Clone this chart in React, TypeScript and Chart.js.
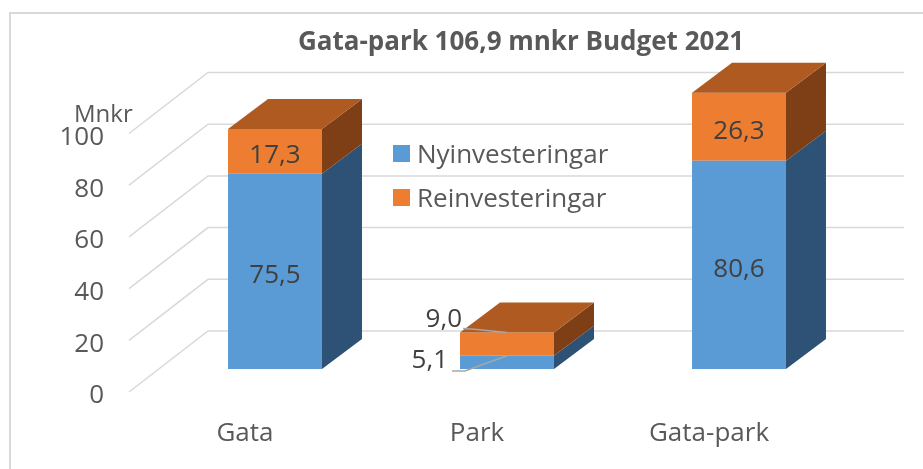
import { useEffect, useRef } from "react";
import { Chart, registerables } from "chart.js";

Chart.register(...registerables);

const categories = ["Gata", "Park", "Gata-park"];
const nyinvesteringar = [75.5, 5.1, 80.6];
const reinvesteringar = [17.3, 9.0, 26.3];
const seriesNames = ["Nyinvesteringar", "Reinvesteringar"];
const yTickValues = [0, 20, 40, 60, 80, 100];
const titleText = "Gata-park 106,9 mnkr Budget 2021";
const yUnit = "Mnkr";

const FONT = "'Open Sans', 'Noto Sans', sans-serif";
const DX = 40;
const DY = -30;
const frontColors = ["#5b9bd5", "#ed7d31"];
const sideColors = ["#2e5276", "#7e3f16"];
const topColors = ["#41719c", "#ae5a21"];
const textGrey = "#595959";
const labelDark = "#404040";
const gridGrey = "#d9d9d9";

const fmt = (v: number) => v.toFixed(1).replace(".", ",");

const excel3d = {
  id: "excel3d",
  beforeDraw(chart: any) {
    const ctx = chart.ctx;
    ctx.save();
    ctx.fillStyle = "#ffffff";
    ctx.fillRect(0, 0, chart.width, chart.height);
    ctx.strokeStyle = gridGrey;
    ctx.lineWidth = 2;
    ctx.strokeRect(10, 13, chart.width + 40, chart.height + 40);
    ctx.fillStyle = textGrey;
    ctx.font = `bold 26px ${FONT}`;
    ctx.textAlign = "center";
    ctx.textBaseline = "alphabetic";
    ctx.fillText(titleText, 521, 50);
    ctx.font = `24px ${FONT}`;
    ctx.textAlign = "left";
    ctx.fillText(yUnit, 74, 122);
    ctx.restore();
  },
  beforeDatasetsDraw(chart: any) {
    const ys = chart.scales.y;
    const ctx = chart.ctx;
    const { left, right } = chart.chartArea;
    ctx.save();
    ctx.strokeStyle = gridGrey;
    ctx.lineWidth = 1.5;
    for (const v of yTickValues) {
      const p = ys.getPixelForValue(v);
      ctx.beginPath();
      ctx.moveTo(left - 30, p + 23);
      ctx.lineTo(left + 49, p - 38);
      ctx.lineTo(right + 49, p - 38);
      ctx.stroke();
    }
    ctx.restore();
  },
  afterDatasetsDraw(chart: any) {
    const ctx = chart.ctx;
    const n = chart.data.labels.length;
    const nd = chart.data.datasets.length;
    ctx.save();
    for (let i = 0; i < n; i++) {
      let topDs = -1;
      for (let d = 0; d < nd; d++) {
        if ((chart.data.datasets[d].data[i] as number) > 0) topDs = d;
      }
      for (let d = 0; d < nd; d++) {
        const el = chart.getDatasetMeta(d).data[i];
        const { x, width, y, base } = el.getProps(["x", "width", "y", "base"], true);
        const l = x - width / 2;
        const r = x + width / 2;
        const t = Math.min(y, base);
        const b = Math.max(y, base);
        ctx.fillStyle = sideColors[d];
        ctx.beginPath();
        ctx.moveTo(r, t);
        ctx.lineTo(r + DX, t + DY);
        ctx.lineTo(r + DX, b + DY);
        ctx.lineTo(r, b);
        ctx.closePath();
        ctx.fill();
        if (d === topDs) {
          ctx.fillStyle = topColors[d];
          ctx.beginPath();
          ctx.moveTo(l, t);
          ctx.lineTo(l + DX, t + DY);
          ctx.lineTo(r + DX, t + DY);
          ctx.lineTo(r, t);
          ctx.closePath();
          ctx.fill();
        }
      }
      for (let d = 0; d < nd; d++) {
        const el = chart.getDatasetMeta(d).data[i];
        const { x, width, y, base } = el.getProps(["x", "width", "y", "base"], true);
        const l = x - width / 2;
        const t = Math.min(y, base);
        const b = Math.max(y, base);
        const v = chart.data.datasets[d].data[i] as number;
        const txt = fmt(v);
        ctx.font = `26px ${FONT}`;
        ctx.fillStyle = labelDark;
        ctx.textBaseline = "alphabetic";
        if (b - t > 40) {
          ctx.textAlign = "center";
          ctx.fillText(txt, x, (t + b) / 2 + 12);
        } else {
          ctx.textAlign = "right";
          ctx.strokeStyle = "#a6a6a6";
          ctx.lineWidth = 1.5;
          ctx.beginPath();
          if (d === 0) {
            ctx.fillText(txt, l - 12, b - 1);
            ctx.moveTo(l - 8, b + 2);
            ctx.lineTo(l + 5, b + 2);
            ctx.lineTo(x, t);
          } else {
            ctx.fillText(txt, l + 2, t - 6);
            ctx.moveTo(l + 3, t - 4);
            ctx.lineTo(l + 17, t - 3);
            ctx.lineTo(x, t);
          }
          ctx.stroke();
        }
      }
    }
    ctx.restore();
  },
  afterDraw(chart: any) {
    const ctx = chart.ctx;
    ctx.save();
    const items = chart.data.datasets;
    for (let d = 0; d < items.length; d++) {
      const yTop = 145 + d * 44;
      ctx.fillStyle = frontColors[d];
      ctx.fillRect(393, yTop, 17, 17);
      ctx.fillStyle = textGrey;
      ctx.font = `26px ${FONT}`;
      ctx.textAlign = "left";
      ctx.textBaseline = "alphabetic";
      ctx.fillText(items[d].label, 417, yTop + 18);
    }
    ctx.restore();
  },
};

export default function App() {
  const ref = useRef<HTMLCanvasElement | null>(null);
  useEffect(() => {
    if (!ref.current) return;
    const chart = new Chart(ref.current, {
      type: "bar",
      data: {
        labels: categories,
        datasets: [
          {
            label: seriesNames[0],
            data: nyinvesteringar,
            backgroundColor: frontColors[0],
            borderWidth: 0,
            barPercentage: 0.5,
            categoryPercentage: 0.81,
            clip: false as any,
          },
          {
            label: seriesNames[1],
            data: reinvesteringar,
            backgroundColor: frontColors[1],
            borderWidth: 0,
            barPercentage: 0.5,
            categoryPercentage: 0.81,
            clip: false as any,
          },
        ],
      },
      options: {
        responsive: false,
        animation: false,
        layout: { padding: { left: 0, top: 110.5, right: 68, bottom: 0 } },
        plugins: {
          legend: { display: false },
          title: { display: false },
          tooltip: { enabled: false },
        },
        scales: {
          x: {
            stacked: true,
            grid: { display: false, drawTicks: false },
            border: { display: false },
            ticks: {
              color: textGrey,
              font: { family: FONT, size: 26 },
              labelOffset: -30,
              padding: 49,
              maxRotation: 0,
              autoSkip: false,
            },
            afterFit: (s: any) => {
              s.height = 100;
            },
          },
          y: {
            stacked: true,
            min: 0,
            max: 100,
            grid: { display: false, drawTicks: false },
            border: { display: false },
            ticks: {
              stepSize: 20,
              color: textGrey,
              font: { family: FONT, size: 26 },
              padding: 55,
              labelOffset: 27,
            },
            afterFit: (s: any) => {
              s.width = 159;
            },
          },
        },
      },
      plugins: [excel3d],
    });
    return () => chart.destroy();
  }, []);
  return (
    <div style={{ position: "fixed", left: 0, top: 0, width: 923, height: 469 }}>
      <canvas ref={ref} width={923} height={469} style={{ display: "block" }} />
    </div>
  );
}
